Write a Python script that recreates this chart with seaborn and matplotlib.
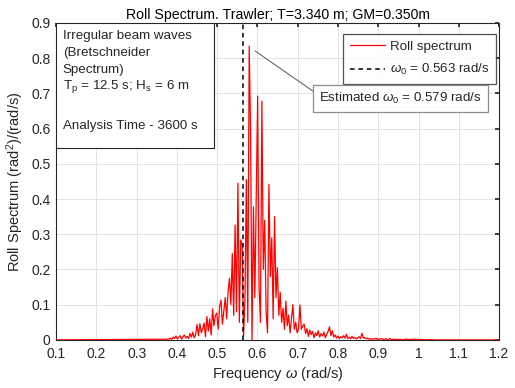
import numpy as np
import pandas as pd
import matplotlib
matplotlib.use("Agg")
import matplotlib.pyplot as plt
from matplotlib.patches import Rectangle
import seaborn as sns

# DATA
freq_start = 0.38
freq_step = 0.0035
roll_core = [
    0.002, 0.005, 0.001, 0.008, 0.004, 0.011, 0.003, 0.007, 0.012, 0.002,
    0.009, 0.014, 0.005, 0.010, 0.004, 0.018, 0.008, 0.022, 0.006, 0.015,
    0.044, 0.012, 0.046, 0.020, 0.031, 0.048, 0.009, 0.066, 0.025, 0.060,
    0.014, 0.088, 0.040, 0.070, 0.076, 0.030, 0.095, 0.113, 0.045, 0.082,
    0.120, 0.060, 0.137, 0.175, 0.100, 0.245, 0.070, 0.326, 0.080, 0.445,
    0.050, 0.284, 0.270, 0.010, 0.120, 0.455, 0.050, 0.834, 0.588, 0.000,
    0.378, 0.120, 0.406, 0.692, 0.150, 0.050, 0.678, 0.200, 0.340, 0.080,
    0.020, 0.442, 0.180, 0.290, 0.060, 0.350, 0.120, 0.205, 0.070, 0.135,
    0.050, 0.090, 0.030, 0.110, 0.040, 0.070, 0.020, 0.060, 0.100, 0.030,
    0.050, 0.020, 0.030, 0.099, 0.030, 0.040, 0.045, 0.018, 0.032, 0.010,
    0.028, 0.015, 0.024, 0.006, 0.020, 0.012, 0.026, 0.008, 0.018, 0.011,
    0.022, 0.006, 0.016, 0.024, 0.037, 0.012, 0.026, 0.008, 0.014, 0.005,
    0.011, 0.004, 0.009, 0.006, 0.012, 0.005, 0.016, 0.004, 0.008, 0.003,
    0.010, 0.004, 0.007, 0.003, 0.006, 0.009, 0.004, 0.019, 0.005, 0.007,
    0.003, 0.005, 0.002, 0.004, 0.001, 0.003, 0.002, 0.005, 0.001, 0.003,
    0.002, 0.004, 0.001, 0.002, 0.003, 0.001, 0.002, 0.004, 0.001, 0.002,
    0.001, 0.002, 0.001, 0.001, 0.002, 0.000,
]
tail_freq = [0.97, 0.98, 0.99, 1.00, 1.01, 1.02, 1.03, 1.04, 1.05, 1.20]
tail_roll = [0.002, 0.001, 0.002, 0.001, 0.001, 0.000, 0.001, 0.000, 0.000, 0.000]

omega0 = 0.563
omega_est = 0.579
x_ticks = [0.1, 0.2, 0.3, 0.4, 0.5, 0.6, 0.7, 0.8, 0.9, 1.0, 1.1, 1.2]
x_labels = ["0.1", "0.2", "0.3", "0.4", "0.5", "0.6", "0.7", "0.8", "0.9", "1", "1.1", "1.2"]
y_ticks = [0, 0.1, 0.2, 0.3, 0.4, 0.5, 0.6, 0.7, 0.8, 0.9]
y_labels = ["0", "0.1", "0.2", "0.3", "0.4", "0.5", "0.6", "0.7", "0.8", "0.9"]
info_lines = [
    "Irregular beam waves",
    "(Bretschneider",
    "Spectrum)",
    "T$_\\mathrm{p}$ = 12.5 s; H$_\\mathrm{s}$ = 6 m",
    "Analysis Time - 3600 s",
]

core_freq = np.round(freq_start + freq_step * np.arange(len(roll_core)), 4)
df = pd.DataFrame({
    "freq": np.concatenate([[0.1], core_freq, tail_freq]),
    "roll": np.concatenate([[0.0], roll_core, tail_roll]),
})

# STYLE
sns.set_theme(style="white")
plt.rcParams["font.family"] = ["Liberation Sans", "DejaVu Sans"]
plt.rcParams["mathtext.fontset"] = "custom"
plt.rcParams["mathtext.rm"] = "Liberation Sans"
plt.rcParams["mathtext.it"] = "Liberation Sans:italic"
txt = "#262626"

fig = plt.figure(figsize=(5.15, 3.88), dpi=100)
ax = fig.add_axes([0.109, 0.124, 0.860, 0.817])

sns.lineplot(data=df, x="freq", y="roll", color="red", lw=0.9, ax=ax,
             label="Roll spectrum", zorder=3)
ax.axvline(omega0, color="black", ls=(0, (3, 2.5)), lw=1.1,
           label="$\\omega_0$ = %.3f rad/s" % omega0, zorder=4)

ax.set_xlim(0.1, 1.2)
ax.set_ylim(0, 0.9)
ax.set_xticks(x_ticks)
ax.set_xticklabels(x_labels)
ax.set_yticks(y_ticks)
ax.set_yticklabels(y_labels)
ax.tick_params(direction="in", length=3, labelsize=10, colors=txt,
               top=True, right=True)
ax.tick_params(axis="x", pad=5)
ax.tick_params(axis="y", pad=4)
ax.grid(True, color="#e3e3e3", lw=0.7)
for s in ax.spines.values():
    s.set_color(txt)
    s.set_linewidth(0.8)

ax.set_title("Roll Spectrum. Trawler; T=3.340 m; GM=0.350m", fontsize=10.2,
             color="black", pad=3)
ax.set_xlabel("Frequency $\\omega$ (rad/s)", fontsize=10.5, color=txt, labelpad=3)
ax.set_ylabel("Roll Spectrum (rad$^2$)/(rad/s)", fontsize=10.5, color=txt, labelpad=4)

# info box, top left
ax.add_patch(Rectangle((0, 0.606), 0.357, 0.394, transform=ax.transAxes,
                       facecolor="white", edgecolor=txt, lw=0.8, zorder=5))
for line, yy in zip(info_lines, [0.958, 0.905, 0.851, 0.798, 0.676]):
    ax.text(0.015, yy, line, transform=ax.transAxes, fontsize=9.6, color=txt,
            va="center", ha="left", zorder=6)

leg = ax.legend(loc="upper right", bbox_to_anchor=(0.994, 0.965), fontsize=9.6,
                frameon=True, fancybox=False, handlelength=2.6, borderpad=0.5,
                labelspacing=0.7, handletextpad=0.4, borderaxespad=0)
leg.get_frame().set_edgecolor(txt)
leg.get_frame().set_linewidth(0.9)
for t in leg.get_texts():
    t.set_color(txt)

ax.annotate("Estimated $\\omega_0$ = %.3f rad/s" % omega_est,
            xy=(0.594, 0.8205), xytext=(0.754, 0.686),
            textcoords="data", fontsize=9.6, color=txt, ha="left", va="center",
            bbox=dict(boxstyle="square,pad=0.45", fc="white", ec="#8c8c8c", lw=0.9),
            arrowprops=dict(arrowstyle="-", color="#555555", lw=0.7,
                            relpos=(0, 0.67), shrinkA=0, shrinkB=0),
            zorder=6)

fig.savefig("out.png", dpi=100)
